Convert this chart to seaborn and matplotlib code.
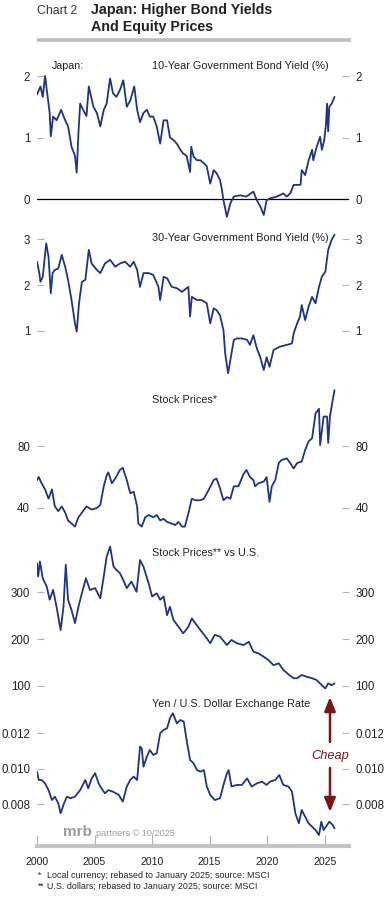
import matplotlib
matplotlib.use("Agg")
import matplotlib.pyplot as plt
from matplotlib.lines import Line2D
import pandas as pd
import seaborn as sns

# ---------------- data ----------------
years_10y = [
    2000.0, 2000.3, 2000.5, 2000.7, 2001.0, 2001.1, 2001.2, 2001.4, 2001.7, 2002.1,
    2002.4, 2002.7, 2003.0, 2003.3, 2003.45, 2003.6, 2003.75, 2004.0, 2004.3, 2004.5,
    2004.9, 2005.2, 2005.5, 2005.8, 2006.05, 2006.35, 2006.6, 2006.9, 2007.2, 2007.5,
    2007.8, 2008.1, 2008.45, 2008.7, 2008.95, 2009.25, 2009.55, 2009.8, 2010.1, 2010.4,
    2010.7, 2011.0, 2011.3, 2011.55, 2011.85, 2012.15, 2012.45, 2012.7, 2013.0, 2013.3,
    2013.4, 2013.6, 2013.9, 2014.2, 2014.5, 2014.75, 2015.05, 2015.35, 2015.6, 2015.9,
    2016.05, 2016.2, 2016.5, 2016.8, 2017.1, 2017.65, 2018.2, 2018.8, 2019.1, 2019.4,
    2019.7, 2019.95, 2020.25, 2020.85, 2021.4, 2021.7, 2022.0, 2022.3, 2022.9, 2023.0,
    2023.3, 2023.6, 2023.9, 2024.0, 2024.3, 2024.6, 2024.75, 2024.95, 2025.1, 2025.2,
    2025.3, 2025.4, 2025.6, 2025.85]
jgb10 = [
    1.70, 1.83, 1.66, 2.00, 1.55, 1.40, 1.02, 1.34, 1.28, 1.45,
    1.30, 1.18, 0.85, 0.70, 0.43, 1.07, 1.55, 1.45, 1.35, 1.83,
    1.50, 1.40, 1.18, 1.45, 1.55, 1.96, 1.72, 1.66, 1.77, 1.93,
    1.50, 1.60, 1.83, 1.45, 1.25, 1.40, 1.45, 1.34, 1.34, 1.18,
    0.90, 1.28, 1.28, 1.00, 0.96, 0.90, 0.80, 0.74, 0.70, 0.44,
    0.85, 0.69, 0.63, 0.63, 0.58, 0.53, 0.25, 0.47, 0.42, 0.31,
    0.17, -0.02, -0.29, -0.07, 0.04, 0.06, 0.04, 0.12, -0.02, -0.12,
    -0.26, -0.02, 0.01, 0.04, 0.09, 0.04, 0.09, 0.23, 0.23, 0.47,
    0.39, 0.63, 0.80, 0.63, 0.85, 1.01, 0.80, 0.95, 1.20, 1.55,
    1.10, 1.50, 1.55, 1.66]

years_30y = [
    2000.0, 2000.2, 2000.3, 2000.5, 2000.8, 2001.0, 2001.2, 2001.35, 2001.55, 2001.85,
    2002.15, 2002.45, 2002.7, 2003.0, 2003.3, 2003.45, 2003.65, 2003.9, 2004.2, 2004.5,
    2004.75, 2005.2, 2005.5, 2005.9, 2006.35, 2006.8, 2007.2, 2007.65, 2008.1, 2008.4,
    2008.7, 2008.95, 2009.25, 2009.7, 2010.1, 2010.55, 2010.7, 2011.0, 2011.3, 2011.7,
    2012.15, 2012.6, 2013.0, 2013.15, 2013.3, 2013.45, 2013.9, 2014.3, 2014.75, 2015.05,
    2015.35, 2015.6, 2015.9, 2016.2, 2016.35, 2016.6, 2016.8, 2017.1, 2017.35, 2017.8,
    2018.25, 2018.5, 2018.8, 2019.1, 2019.4, 2019.7, 2019.95, 2020.2, 2020.55, 2021.1,
    2021.7, 2022.15, 2022.3, 2022.6, 2022.85, 2023.0, 2023.3, 2023.6, 2023.9, 2024.2,
    2024.5, 2024.75, 2025.05, 2025.3, 2025.6, 2025.85]
jgb30 = [
    2.51, 2.26, 2.07, 2.18, 2.91, 2.62, 1.82, 2.26, 2.33, 2.36,
    2.66, 2.40, 2.11, 1.67, 1.16, 0.98, 1.60, 2.07, 2.11, 2.77,
    2.47, 2.33, 2.26, 2.47, 2.55, 2.40, 2.47, 2.51, 2.40, 2.51,
    2.33, 1.96, 2.26, 2.26, 2.22, 1.96, 1.67, 2.18, 2.15, 1.96,
    1.93, 1.85, 1.93, 1.96, 1.31, 1.74, 1.67, 1.67, 1.60, 1.16,
    1.49, 1.45, 1.34, 1.01, 0.50, 0.07, 0.36, 0.80, 0.83, 0.83,
    0.80, 0.69, 0.90, 0.61, 0.42, 0.14, 0.42, 0.21, 0.58, 0.65,
    0.69, 0.72, 0.94, 1.16, 1.31, 1.56, 1.23, 1.53, 1.74, 1.60,
    1.96, 2.18, 2.29, 2.77, 2.99, 3.10]

years_stock = [
    2000.0, 2000.15, 2000.4, 2000.7, 2001.0, 2001.3, 2001.55, 2001.85, 2002.15, 2002.45,
    2002.7, 2003.0, 2003.3, 2003.6, 2003.9, 2004.3, 2004.75, 2005.2, 2005.5, 2005.8,
    2006.05, 2006.2, 2006.5, 2006.8, 2007.2, 2007.45, 2007.8, 2008.1, 2008.4, 2008.7,
    2008.8, 2009.1, 2009.4, 2009.7, 2010.1, 2010.4, 2010.7, 2011.0, 2011.3, 2011.7,
    2012.0, 2012.3, 2012.6, 2012.85, 2013.15, 2013.45, 2013.75, 2014.2, 2014.5, 2014.9,
    2015.35, 2015.6, 2015.9, 2016.2, 2016.5, 2016.8, 2017.1, 2017.5, 2017.95, 2018.2,
    2018.5, 2018.8, 2018.95, 2019.25, 2019.7, 2019.95, 2020.2, 2020.4, 2020.7, 2021.0,
    2021.25, 2021.7, 2022.0, 2022.3, 2022.6, 2023.0, 2023.3, 2023.6, 2023.9, 2024.2,
    2024.5, 2024.6, 2024.9, 2025.2, 2025.3, 2025.45, 2025.7, 2025.85]
stocks = [
    58, 60, 56, 52, 46, 52, 41, 38, 41, 37,
    32, 30, 28, 34, 37, 41, 39, 40, 42, 54,
    61, 63, 56, 59, 64.5, 66, 58, 49.5, 50.5, 41,
    30, 28, 34, 35.5, 34, 35.5, 32, 33, 31, 30,
    29, 31, 28, 28, 36.5, 46, 45, 45, 46, 51.5,
    58, 59, 52.7, 45, 47, 46, 54, 54, 62, 64.5,
    60, 58, 54, 56, 57, 60, 44, 54, 58, 69,
    71, 72, 69, 65.5, 69, 70, 77.5, 83, 85, 101,
    104, 80.6, 99, 99, 82, 99, 110, 116]

years_rel = [
    2000.0, 2000.1, 2000.25, 2000.5, 2000.85, 2001.1, 2001.4, 2001.7, 2002.05, 2002.3,
    2002.5, 2002.7, 2003.0, 2003.3, 2003.6, 2003.9, 2004.25, 2004.6, 2005.05, 2005.5,
    2005.8, 2006.05, 2006.35, 2006.65, 2006.9, 2007.2, 2007.5, 2007.8, 2008.2, 2008.65,
    2008.95, 2009.25, 2009.7, 2010.0, 2010.4, 2010.7, 2011.0, 2011.3, 2011.55, 2011.85,
    2012.3, 2012.7, 2013.15, 2013.45, 2013.75, 2014.2, 2014.65, 2015.05, 2015.45, 2015.9,
    2016.5, 2016.9, 2017.35, 2017.95, 2018.4, 2018.8, 2019.25, 2019.7, 2020.1, 2020.55,
    2021.0, 2021.4, 2021.9, 2022.3, 2022.6, 2023.0, 2023.45, 2023.9, 2024.3, 2024.75,
    2025.05, 2025.3, 2025.6, 2025.85]
stocks_vs_us = [
    362, 334, 366, 330, 312, 284, 305, 269, 219, 269,
    359, 284, 262, 234, 269, 298, 330, 305, 309, 287,
    334, 376, 398, 355, 348, 341, 326, 309, 323, 301,
    369, 355, 319, 291, 298, 284, 291, 251, 269, 241,
    226, 212, 226, 244, 234, 219, 205, 191, 209, 205,
    187, 198, 191, 187, 194, 173, 169, 162, 155, 144,
    148, 134, 123, 116, 116, 123, 119, 116, 112, 101,
    94, 105, 101, 105]

years_fx = [
    2000.0, 2000.15, 2000.4, 2000.7, 2001.0, 2001.3, 2001.55, 2001.85, 2002.05, 2002.35,
    2002.6, 2002.9, 2003.3, 2003.75, 2004.2, 2004.45, 2004.75, 2005.05, 2005.35, 2005.6,
    2005.9, 2006.2, 2006.6, 2007.1, 2007.45, 2007.8, 2008.1, 2008.4, 2008.7, 2008.95,
    2009.1, 2009.25, 2009.55, 2009.8, 2010.1, 2010.4, 2010.7, 2011.0, 2011.3, 2011.55,
    2011.8, 2012.15, 2012.45, 2012.75, 2013.0, 2013.3, 2013.6, 2013.9, 2014.2, 2014.5,
    2014.75, 2015.05, 2015.45, 2015.9, 2016.2, 2016.5, 2016.65, 2016.9, 2017.35, 2017.8,
    2018.25, 2018.65, 2019.1, 2019.55, 2019.95, 2020.25, 2020.7, 2021.05, 2021.4, 2021.85,
    2022.15, 2022.45, 2022.75, 2023.0, 2023.3, 2023.6, 2023.9, 2024.2, 2024.5, 2024.7,
    2024.9, 2025.2, 2025.4, 2025.7, 2025.85]
yen_usd = [
    0.00984, 0.00937, 0.00937, 0.00918, 0.00880, 0.00824, 0.00843, 0.00806, 0.00749, 0.00806,
    0.00843, 0.00834, 0.00843, 0.00880, 0.00937, 0.00890, 0.00946, 0.00975, 0.00918, 0.00890,
    0.00862, 0.00880, 0.00871, 0.00853, 0.00815, 0.00900, 0.00937, 0.00956, 0.00937, 0.01125,
    0.01115, 0.01012, 0.01069, 0.01106, 0.01078, 0.01087, 0.01200, 0.01219, 0.01228, 0.01285,
    0.01313, 0.01256, 0.01275, 0.01266, 0.01162, 0.01050, 0.01031, 0.00993, 0.00984, 0.00993,
    0.00900, 0.00853, 0.00824, 0.00834, 0.00909, 0.00975, 0.00993, 0.00900, 0.00909, 0.00909,
    0.00946, 0.00900, 0.00918, 0.00928, 0.00909, 0.00928, 0.00937, 0.00965, 0.00909, 0.00900,
    0.00871, 0.00749, 0.00693, 0.00768, 0.00730, 0.00693, 0.00674, 0.00655, 0.00627, 0.00702,
    0.00655, 0.00683, 0.00702, 0.00683, 0.00664]

panel_titles = ["10-Year Government Bond Yield (%)", "30-Year Government Bond Yield (%)",
                "Stock Prices*", "Stock Prices** vs U.S.", "Yen / U.S. Dollar Exchange Rate"]
ticks_10y = [0, 1, 2]
ticks_30y = [1, 2, 3]
ticks_stock = [40, 80]
ticks_rel = [100, 200, 300]
ticks_fx = [0.008, 0.010, 0.012]
year_ticks = [2000, 2005, 2010, 2015, 2020, 2025]
footnote_marks = ["*", "**"]
footnotes = ["Local currency; rebased to January 2025; source: MSCI",
             "U.S. dollars; rebased to January 2025; source: MSCI"]

# ---------------- styling ----------------
sns.set_theme(style="white")
plt.rcParams['font.family'] = ['Liberation Sans', 'DejaVu Sans']

W, H = 387, 897
NAVY = "#1d3586"
RED = "#7d1518"
TXT = "#222222"
TICKC = "#b4b4b4"

fig = plt.figure(figsize=(W / 100, H / 100), dpi=100)


def fx(px):
    return px / W


def fy(py):
    return 1 - py / H


LEFT_PX, RIGHT_PX = 37.0, 348.5
PX_PER_YEAR = 11.51
XLIM = (2000, 2000 + (RIGHT_PX - LEFT_PX) / PX_PER_YEAR)


def make_axes(top, bot, v_hi, p_hi, v_lo, p_lo):
    ax = fig.add_axes([fx(LEFT_PX), fy(bot), (RIGHT_PX - LEFT_PX) / W, (bot - top) / H])
    scale = (p_lo - p_hi) / (v_hi - v_lo)
    ax.set_ylim(v_lo - (bot - p_lo) / scale, v_hi + (p_hi - top) / scale)
    ax.set_xlim(*XLIM)
    return ax


panels = [
    (make_axes(62, 222, 2, 76, 0, 199), years_10y, jgb10, ticks_10y, "{:.0f}"),
    (make_axes(228, 378, 3, 239.3, 1, 330.7), years_30y, jgb30, ticks_30y, "{:.0f}"),
    (make_axes(385, 535, 80, 446, 40, 508), years_stock, stocks, ticks_stock, "{:.0f}"),
    (make_axes(540, 692, 300, 592.3, 100, 685.7), years_rel, stocks_vs_us, ticks_rel, "{:.0f}"),
    (make_axes(695, 846, 0.012, 733.3, 0.008, 804.3), years_fx, yen_usd, ticks_fx, "{:.3f}"),
]

for i, (ax, xs, ys, yt, fmt) in enumerate(panels):
    df = pd.DataFrame({"year": xs, "value": ys})
    sns.lineplot(data=df, x="year", y="value", ax=ax, color=NAVY, linewidth=1.3,
                 estimator=None, sort=False, legend=False)
    ax.set_xlabel("")
    ax.set_ylabel("")
    for s in ax.spines.values():
        s.set_visible(False)
    ax.set_yticks(yt)
    ax.set_yticklabels([fmt.format(v) for v in yt])
    ax.tick_params(axis="y", left=True, right=True, labelleft=True, labelright=True,
                   direction="in", length=5, width=0.8, color=TICKC, pad=5,
                   labelsize=8.3, labelcolor=TXT)
    ax.set_facecolor("none")
    if i < 4:
        ax.set_xticks([])
    ax.set_xlim(*XLIM)

# zero line in first panel
panels[0][0].axhline(0, color="black", lw=0.9, zorder=1)

# bottom axis: thick grey bar with ticks
ax5 = panels[4][0]
ax5.spines["bottom"].set_visible(True)
ax5.spines["bottom"].set_color("#c4c4c4")
ax5.spines["bottom"].set_linewidth(3.0)
ax5.set_xticks(year_ticks)
ax5.set_xticklabels([str(y) for y in year_ticks])
ax5.tick_params(axis="x", bottom=True, direction="in", length=8, width=0.8, color="#b0b0b0",
                pad=8, labelsize=7.6, labelcolor=TXT)

# panel titles
fig.text(fx(52), fy(66), "Japan:", fontsize=7.7, color=TXT, va="center", ha="left")
for t, py in zip(panel_titles, [66, 238, 400, 552.7, 704]):
    fig.text(fx(151.5), fy(py), t, fontsize=7.8, color=TXT, va="center", ha="left")

# header
fig.text(fx(37), fy(14), "Chart 2", fontsize=8.8, color="#333333", va="baseline", ha="left")
fig.text(fx(91), fy(14), "Japan: Higher Bond Yields", fontsize=10.3, fontweight="bold",
         color=TXT, va="baseline", ha="left")
fig.text(fx(91), fy(31.5), "And Equity Prices", fontsize=10.3, fontweight="bold",
         color=TXT, va="baseline", ha="left")
fig.add_artist(Line2D([fx(37), fx(351)], [fy(40), fy(40)], transform=fig.transFigure,
                      color="#bdbdbd", lw=2.6, solid_capstyle="butt"))

# logo
fig.text(fx(63), fy(836), "mrb", fontsize=11, fontweight="bold", color="#9c9c9c",
         va="baseline", ha="left")
fig.text(fx(96.5), fy(836), "partners \u00a9 10/2025", fontsize=6.6, color="#9c9c9c",
         va="baseline", ha="left")

# Cheap arrows
arrow_kw = dict(arrowstyle="-|>,head_length=0.7,head_width=0.28", color=RED, lw=1.8,
                shrinkA=0, shrinkB=0)
ax5.annotate("", xy=(fx(330), fy(697)), xycoords="figure fraction",
             xytext=(fx(330), fy(742)), textcoords="figure fraction", arrowprops=arrow_kw)
ax5.annotate("", xy=(fx(330), fy(812)), xycoords="figure fraction",
             xytext=(fx(330), fy(768)), textcoords="figure fraction", arrowprops=arrow_kw)
fig.text(fx(330), fy(755.7), "Cheap", fontsize=9.2, fontstyle="italic", color=RED,
         va="center", ha="center")

# footnotes
for mark, note, py in zip(footnote_marks, footnotes, [875.7, 886.7]):
    fig.text(fx(38), fy(py), mark, fontsize=6.2, color=TXT, va="center", ha="left")
    fig.text(fx(47), fy(py), note, fontsize=6.4, color=TXT, va="center", ha="left")

fig.savefig("out.png", dpi=100, facecolor="white")
